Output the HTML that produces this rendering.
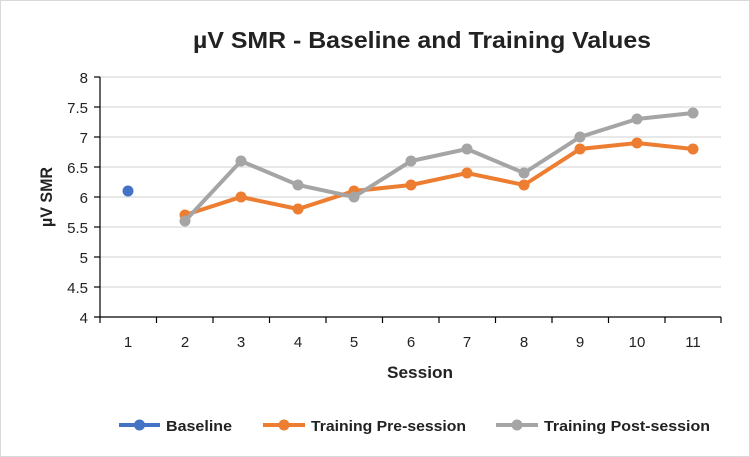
<!DOCTYPE html>
<html><head><meta charset="utf-8"><style>
body{margin:0;background:#fff}
svg{display:block;font-family:"Liberation Sans",Arial,sans-serif}
</style></head><body>
<svg width="750" height="457" viewBox="0 0 750 457">
<rect x="0.5" y="0.5" width="749" height="456" fill="#fff" stroke="#d9d9d9"/>
<text x="422" y="48" text-anchor="middle" font-size="23" font-weight="bold" fill="#222" textLength="458" lengthAdjust="spacingAndGlyphs">µV SMR - Baseline and Training Values</text>
<g stroke="#d9d9d9" stroke-width="1.3">
<line x1="100" x2="721" y1="77" y2="77"/><line x1="100" x2="721" y1="107" y2="107"/>
<line x1="100" x2="721" y1="137" y2="137"/><line x1="100" x2="721" y1="167" y2="167"/>
<line x1="100" x2="721" y1="197" y2="197"/><line x1="100" x2="721" y1="227" y2="227"/>
<line x1="100" x2="721" y1="257" y2="257"/><line x1="100" x2="721" y1="287" y2="287"/>
</g>
<g stroke="#000" stroke-width="1.2">
<line x1="100" y1="77" x2="100" y2="317"/>
<line x1="94" y1="317" x2="721" y2="317"/>
<line x1="94" y1="77" x2="100" y2="77"/><line x1="94" y1="107" x2="100" y2="107"/>
<line x1="94" y1="137" x2="100" y2="137"/><line x1="94" y1="167" x2="100" y2="167"/>
<line x1="94" y1="197" x2="100" y2="197"/><line x1="94" y1="227" x2="100" y2="227"/>
<line x1="94" y1="257" x2="100" y2="257"/><line x1="94" y1="287" x2="100" y2="287"/>
<line x1="100" y1="317" x2="100" y2="323"/><line x1="156.5" y1="317" x2="156.5" y2="323"/>
<line x1="213" y1="317" x2="213" y2="323"/><line x1="269.5" y1="317" x2="269.5" y2="323"/>
<line x1="326" y1="317" x2="326" y2="323"/><line x1="382.5" y1="317" x2="382.5" y2="323"/>
<line x1="439" y1="317" x2="439" y2="323"/><line x1="495.5" y1="317" x2="495.5" y2="323"/>
<line x1="552" y1="317" x2="552" y2="323"/><line x1="608.5" y1="317" x2="608.5" y2="323"/>
<line x1="665" y1="317" x2="665" y2="323"/><line x1="721" y1="317" x2="721" y2="323"/>
</g>
<g font-size="15" fill="#222" text-anchor="end">
<text x="88" y="83">8</text><text x="88" y="113">7.5</text><text x="88" y="143">7</text>
<text x="88" y="173">6.5</text><text x="88" y="203">6</text><text x="88" y="233">5.5</text>
<text x="88" y="263">5</text><text x="88" y="293">4.5</text><text x="88" y="323">4</text>
</g>
<g font-size="15" fill="#222" text-anchor="middle">
<text x="128" y="347">1</text><text x="185" y="347">2</text><text x="241" y="347">3</text>
<text x="298" y="347">4</text><text x="354" y="347">5</text><text x="411" y="347">6</text>
<text x="467" y="347">7</text><text x="524" y="347">8</text><text x="580" y="347">9</text>
<text x="637" y="347">10</text><text x="693" y="347">11</text>
</g>
<text x="420" y="378" text-anchor="middle" font-size="17" font-weight="bold" fill="#222" textLength="66" lengthAdjust="spacingAndGlyphs">Session</text>
<text transform="translate(52,197) rotate(-90)" text-anchor="middle" font-size="17" font-weight="bold" fill="#222" textLength="60" lengthAdjust="spacingAndGlyphs">µV SMR</text>
<polyline fill="none" stroke="#ed7d31" stroke-width="4" points="185,215 241,197 298,209 354,191 411,185 467,173 524,185 580,149 637,143 693,149"/>
<g fill="#ed7d31">
<circle cx="185" cy="215" r="5.5"/><circle cx="241" cy="197" r="5.5"/><circle cx="298" cy="209" r="5.5"/><circle cx="354" cy="191" r="5.5"/><circle cx="411" cy="185" r="5.5"/><circle cx="467" cy="173" r="5.5"/><circle cx="524" cy="185" r="5.5"/><circle cx="580" cy="149" r="5.5"/><circle cx="637" cy="143" r="5.5"/><circle cx="693" cy="149" r="5.5"/>
</g>
<polyline fill="none" stroke="#a5a5a5" stroke-width="4" points="185,221 241,161 298,185 354,197 411,161 467,149 524,173 580,137 637,119 693,113"/>
<g fill="#a5a5a5">
<circle cx="185" cy="221" r="5.5"/><circle cx="241" cy="161" r="5.5"/><circle cx="298" cy="185" r="5.5"/><circle cx="354" cy="197" r="5.5"/><circle cx="411" cy="161" r="5.5"/><circle cx="467" cy="149" r="5.5"/><circle cx="524" cy="173" r="5.5"/><circle cx="580" cy="137" r="5.5"/><circle cx="637" cy="119" r="5.5"/><circle cx="693" cy="113" r="5.5"/>
</g>
<circle cx="128" cy="191" r="5.5" fill="#4472c4"/>
<g font-size="15" font-weight="bold" fill="#222">
<line x1="119" y1="425" x2="160" y2="425" stroke="#4472c4" stroke-width="4"/><circle cx="139.5" cy="425" r="5.5" fill="#4472c4"/>
<text x="166" y="431" textLength="66" lengthAdjust="spacingAndGlyphs">Baseline</text>
<line x1="263" y1="425" x2="305" y2="425" stroke="#ed7d31" stroke-width="4"/><circle cx="284" cy="425" r="5.5" fill="#ed7d31"/>
<text x="311" y="431" textLength="155" lengthAdjust="spacingAndGlyphs">Training Pre-session</text>
<line x1="496" y1="425" x2="538" y2="425" stroke="#a5a5a5" stroke-width="4"/><circle cx="517" cy="425" r="5.5" fill="#a5a5a5"/>
<text x="544" y="431" textLength="166" lengthAdjust="spacingAndGlyphs">Training Post-session</text>
</g>
</svg>
</body></html>
